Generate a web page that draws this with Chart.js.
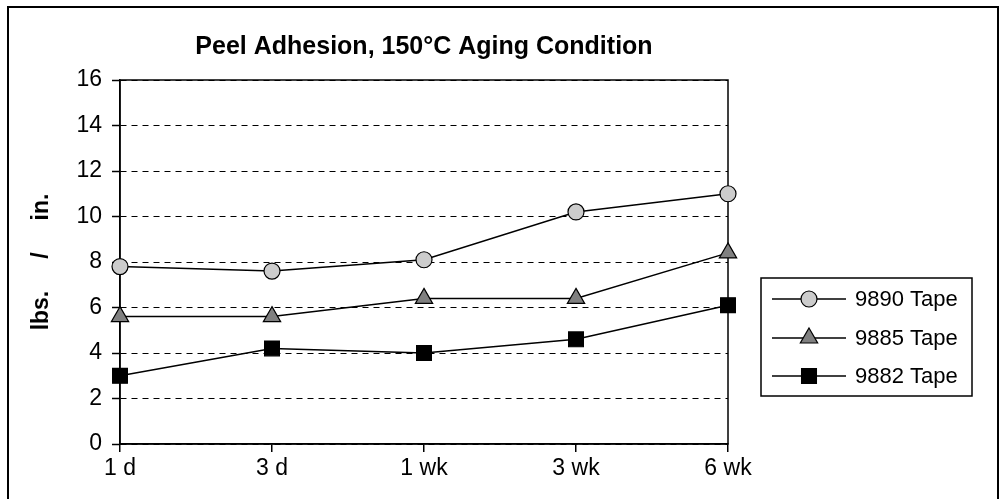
<!DOCTYPE html>
<html>
<head>
<meta charset="utf-8">
<script src="https://cdn.jsdelivr.net/npm/chart.js@4/dist/chart.umd.min.js"></script>
<style>
  html, body { margin: 0; padding: 0; background: #fff; }
  #wrap { width: 1000px; height: 499px; position: relative; }
</style>
</head>
<body>
<div id="wrap"><canvas id="chart"></canvas></div>
<script>
const chartTitle = 'Peel Adhesion, 150\u00b0C Aging Condition';
const yAxisTitle = 'lbs.     /     in.';
const categories = ['1 d', '3 d', '1 wk', '3 wk', '6 wk'];
const tape9890 = [7.8, 7.6, 8.1, 10.2, 11.0];
const tape9885 = [5.6, 5.6, 6.4, 6.4, 8.4];
const tape9882 = [3.0, 4.2, 4.0, 4.6, 6.1];
const yTicks = [0, 2, 4, 6, 8, 10, 12, 14, 16];

const font = 'Liberation Sans, Arial, sans-serif';

function series(label, data, style, fill, radius) {
  return {
    label: label,
    data: data,
    borderColor: '#000',
    borderWidth: 1.5,
    pointStyle: style,
    pointRadius: radius,
    pointHoverRadius: radius,
    pointBackgroundColor: fill,
    pointBorderColor: '#000',
    pointBorderWidth: 1.2,
    tension: 0
  };
}

// frame, title and the boxed legend on the right
const decor = {
  id: 'decor',
  beforeDatasetsDraw(chart) {
    const {ctx, chartArea: a} = chart;
    ctx.save();
    ctx.strokeStyle = '#000';
    ctx.lineWidth = 1.5;
    ctx.strokeRect(a.left, a.top, a.right - a.left, a.bottom - a.top);
    ctx.restore();
  },
  afterDraw(chart) {
    const {ctx, chartArea: a} = chart;
    ctx.save();
    // outer border
    ctx.strokeStyle = '#000';
    ctx.lineWidth = 2;
    ctx.beginPath();
    ctx.moveTo(8, 520);
    ctx.lineTo(8, 7);
    ctx.lineTo(998, 7);
    ctx.lineTo(998, 520);
    ctx.stroke();

    ctx.fillStyle = '#000';
    ctx.font = 'bold 25px ' + font;
    ctx.textAlign = 'center';
    ctx.textBaseline = 'middle';
    ctx.fillText(chartTitle, (a.left + a.right) / 2, 47);

    // legend
    ctx.lineWidth = 1.5;
    ctx.strokeRect(761, 278, 211, 118);
    const rows = [299, 338, 376];
    chart.data.datasets.forEach((ds, i) => {
      const y = rows[i];
      ctx.strokeStyle = '#000';
      ctx.lineWidth = 1.5;
      ctx.beginPath();
      ctx.moveTo(772, y);
      ctx.lineTo(846, y);
      ctx.stroke();
      ctx.fillStyle = ds.pointBackgroundColor;
      ctx.lineWidth = ds.pointBorderWidth;
      Chart.helpers.drawPoint(ctx, {pointStyle: ds.pointStyle, radius: ds.pointRadius, rotation: 0, borderWidth: ds.pointBorderWidth}, 809, y);
      ctx.fillStyle = '#000';
      ctx.font = '22px ' + font;
      ctx.textAlign = 'left';
      ctx.fillText(ds.label, 855, y + 1);
    });
    ctx.restore();
  }
};

new Chart(document.getElementById('chart'), {
  type: 'line',
  data: {
    labels: categories,
    datasets: [
      series('9890 Tape', tape9890, 'circle', '#cccccc', 8),
      series('9885 Tape', tape9885, 'triangle', '#808080', 10),
      series('9882 Tape', tape9882, 'rect', '#000000', 10.5)
    ]
  },
  options: {
    responsive: true,
    maintainAspectRatio: false,
    animation: false,
    events: [],
    layout: { padding: { left: 0, right: 272, top: 80, bottom: 0 } },
    plugins: {
      legend: { display: false },
      title: { display: false },
      tooltip: { enabled: false }
    },
    scales: {
      x: {
        type: 'category',
        offset: false,
        afterFit(scale) { scale.height = 55; },
        grid: { drawOnChartArea: false, drawTicks: true, tickLength: 8, color: '#000', lineWidth: 1.5 },
        border: { color: '#000', width: 1.5 },
        ticks: { color: '#000', font: { family: font, size: 23 }, padding: 3, maxRotation: 0 }
      },
      y: {
        min: 0,
        max: 16,
        afterFit(scale) { scale.width = 120; },
        afterBuildTicks(scale) { scale.ticks = yTicks.map(v => ({value: v})); },
        grid: { color: '#000', lineWidth: 1, tickLength: 8, tickWidth: 1.5, tickBorderDash: [] },
        border: { color: '#000', width: 1.5, dash: [6, 5] },
        ticks: { color: '#000', font: { family: font, size: 23 }, padding: 10 },
        title: {
          display: true,
          text: yAxisTitle,
          color: '#000',
          font: { family: font, size: 23, weight: 'bold' },
          padding: { top: 28, bottom: 0 }
        }
      }
    }
  },
  plugins: [decor]
});
</script>
</body>
</html>
